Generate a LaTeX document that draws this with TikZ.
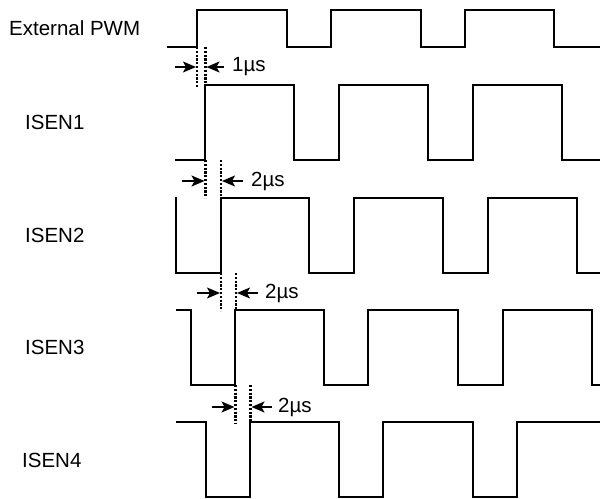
\documentclass[tikz,border=0pt]{standalone}
\usepackage{fontspec}
\setmainfont{Liberation Sans}
\usetikzlibrary{arrows.meta}
\begin{document}
\begin{tikzpicture}[x=1pt,y=-1pt,
  sig/.style={line width=1.7pt,line join=miter},
  dotline/.style={line width=2.4pt,dash pattern=on 2.2pt off 1.6pt},
  dimarrow/.style={line width=1.4pt,-{Stealth[length=13pt,width=11pt,inset=3pt]}},
  lbl/.style={anchor=west,inner sep=0pt,font=\fontsize{20.5}{23}\selectfont},
  dlbl/.style={anchor=west,inner sep=0pt,font=\fontsize{20.5}{23}\selectfont}]
\useasboundingbox (0,0) rectangle (602,498);
% labels
\node[lbl] (lpwm) at (9,28) {External PWM};
\node[lbl] (l1) at (25,122) {ISEN1};
\node[lbl] (l2) at (25,235) {ISEN2};
\node[lbl] (l3) at (25,347) {ISEN3};
\node[lbl] (l4) at (22,460) {ISEN4};
% waveforms
\draw[sig] (167,47) -- (197,47) -- (197,10) -- (287,10) -- (287,47) -- (331,47) -- (331,10) -- (421,10) -- (421,47) -- (465,47) -- (465,10) -- (554,10) -- (554,47) -- (600,47);
\draw[sig] (175,160) -- (205,160) -- (205,85) -- (294,85) -- (294,160) -- (339,160) -- (339,85) -- (428,85) -- (428,160) -- (473,160) -- (473,85) -- (562,85) -- (562,160) -- (600,160);
\draw[sig] (176,197) -- (176,273) -- (221,273) -- (221,198) -- (309,198) -- (309,273) -- (354,273) -- (354,198) -- (443,198) -- (443,273) -- (488,273) -- (488,198) -- (577,198) -- (577,273) -- (600,273);
\draw[sig] (176,310) -- (191,310) -- (191,385) -- (235,385) -- (235,310) -- (324,310) -- (324,385) -- (368,385) -- (368,310) -- (458,310) -- (458,385) -- (503,385) -- (503,310) -- (592,310) -- (592,385) -- (600,385);
\draw[sig] (176,422) -- (206,422) -- (206,497) -- (250,497) -- (250,422) -- (339,422) -- (339,497) -- (383,497) -- (383,422) -- (473,422) -- (473,497) -- (517,497) -- (517,422) -- (600,422);
% delay markers
\coordinate (a1t) at (197,47); \coordinate (a1b) at (197,88);
\coordinate (b1t) at (205.5,47); \coordinate (b1b) at (205.5,85);
\draw[dotline] (a1t) -- (a1b); \draw[dotline] (b1t) -- (b1b);
\coordinate (r1) at (175,67); \coordinate (r1e) at (196,67);
\coordinate (s1) at (224,67); \coordinate (s1e) at (206.5,67);
\draw[dimarrow] (r1) -- (r1e); \draw[dimarrow] (s1) -- (s1e);
\node[dlbl] (t1) at (232,67) {1µs};

\coordinate (a2t) at (205.5,160); \coordinate (a2b) at (205.5,198);
\coordinate (b2t) at (221,160); \coordinate (b2b) at (221,198);
\draw[dotline] (a2t) -- (a2b); \draw[dotline] (b2t) -- (b2b);
\coordinate (r2) at (182,181); \coordinate (r2e) at (204.5,181);
\coordinate (s2) at (243,181); \coordinate (s2e) at (222,181);
\draw[dimarrow] (r2) -- (r2e); \draw[dimarrow] (s2) -- (s2e);
\node[dlbl] (t2) at (251,181) {2µs};

\coordinate (a3t) at (221,273); \coordinate (a3b) at (221,311);
\coordinate (b3t) at (236,273); \coordinate (b3b) at (236,310);
\draw[dotline] (a3t) -- (a3b); \draw[dotline] (b3t) -- (b3b);
\coordinate (r3) at (197,293); \coordinate (r3e) at (220,293);
\coordinate (s3) at (258,293); \coordinate (s3e) at (237,293);
\draw[dimarrow] (r3) -- (r3e); \draw[dimarrow] (s3) -- (s3e);
\node[dlbl] (t3) at (265,293) {2µs};

\coordinate (a4t) at (235.5,385); \coordinate (a4b) at (235.5,424);
\coordinate (b4t) at (250.5,385); \coordinate (b4b) at (250.5,422);
\draw[dotline] (a4t) -- (a4b); \draw[dotline] (b4t) -- (b4b);
\coordinate (r4) at (212,407); \coordinate (r4e) at (234.5,407);
\coordinate (s4) at (272,407); \coordinate (s4e) at (251.5,407);
\draw[dimarrow] (r4) -- (r4e); \draw[dimarrow] (s4) -- (s4e);
\node[dlbl] (t4) at (278,407) {2µs};
\end{tikzpicture}
\end{document}
